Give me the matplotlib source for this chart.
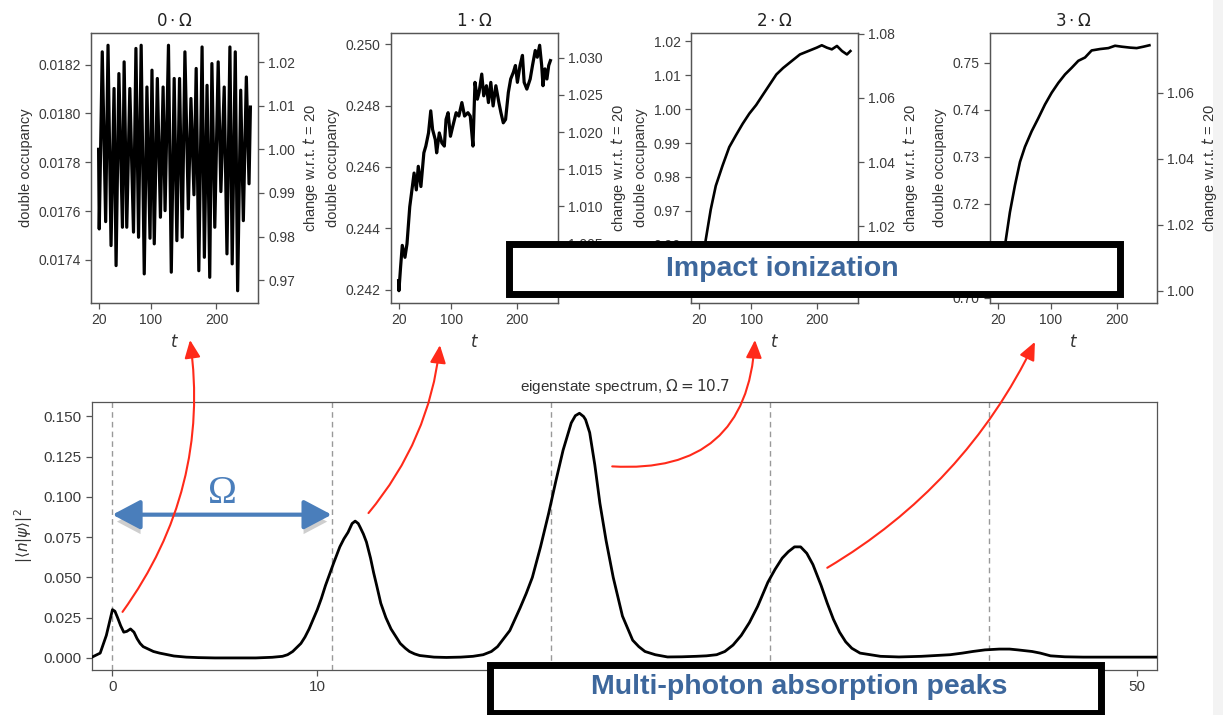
import numpy as np
import matplotlib
matplotlib.use("Agg")
import matplotlib.pyplot as plt
import matplotlib.patheffects as pe
from matplotlib.patches import Rectangle, ConnectionPatch
from matplotlib.ticker import FormatStrFormatter

plt.rcParams["font.family"] = ["Liberation Sans", "DejaVu Sans"]
plt.rcParams["mathtext.fontset"] = "dejavusans"
plt.rcParams["axes.edgecolor"] = "#555555"
plt.rcParams["axes.linewidth"] = 0.9

# ---- top panels: double occupancy vs t ----
T_0 = [20, 21, 25.6, 30.8, 34.4, 39, 43.6, 46.7, 51, 56.4, 59, 63, 67.7, 73.3, 77, 81, 85,
       89.7, 93.8, 98.5, 101.5, 105, 109.7, 114.4, 118.5, 121.5, 126.7, 131, 135.4, 139.5,
       143.6, 147.7, 151.8, 157, 161, 165.6, 169, 173, 178, 181.5, 185.6, 189.7, 193,
       197.4, 202.6, 206.7, 211.8, 216, 220.5, 224, 228.7, 232.3, 237, 241, 245.6, 249.7, 251.8]
D_0 = [0.017853, 0.017527, 0.018252, 0.017557, 0.018279, 0.017459, 0.018102, 0.017377,
       0.018163, 0.017534, 0.018211, 0.017534, 0.018102, 0.017514, 0.018266, 0.017493,
       0.018279, 0.017343, 0.018108, 0.017489, 0.018177, 0.017466, 0.018143, 0.017575,
       0.018108, 0.017602, 0.018279, 0.017350, 0.018143, 0.017479, 0.018143, 0.017493,
       0.018252, 0.017609, 0.018061, 0.017667, 0.018184, 0.017356, 0.018272, 0.017411,
       0.018115, 0.017329, 0.018204, 0.017534, 0.018211, 0.017680, 0.018108, 0.017425,
       0.018272, 0.017384, 0.018252, 0.017274, 0.018095, 0.017561, 0.018149, 0.017712, 0.018026]

T_1 = [20, 20.5, 23, 25.6, 29.7, 32.8, 37, 41, 43.6, 47, 50, 54, 58.5, 61.5, 65.6, 69, 71.8,
       75.9, 78, 82, 86, 89.7, 92.3, 95.4, 99, 102.6, 107.7, 111.8, 116.4, 120.5, 125.6,
       129.2, 131.3, 133.3, 136.4, 140, 142.6, 146.7, 149.7, 153.8, 156.9, 160.5, 164, 168.2,
       172.8, 175.9, 179.5, 183, 187.2, 190.8, 194.9, 198, 201, 205, 208.7, 211.3, 215.4,
       220.5, 224, 228.2, 231.3, 234.9, 238, 240, 243, 246, 248.7, 251.3]
D_1 = [0.24229, 0.24196, 0.24272, 0.24344, 0.24305, 0.24349, 0.24470, 0.24536, 0.24580,
       0.24525, 0.24602, 0.24536, 0.24646, 0.24668, 0.24711, 0.24783, 0.24722, 0.24689,
       0.24646, 0.24711, 0.24678, 0.24668, 0.24755, 0.24777, 0.24700, 0.24733, 0.24777,
       0.24766, 0.24810, 0.24766, 0.24777, 0.24766, 0.24717, 0.24668, 0.24876, 0.24821,
       0.24843, 0.24903, 0.24832, 0.24865, 0.24810, 0.24876, 0.24799, 0.24865, 0.24810,
       0.24777, 0.24744, 0.24755, 0.24843, 0.24887, 0.24909, 0.24931, 0.24876, 0.24931,
       0.24964, 0.24876, 0.24854, 0.24887, 0.24931, 0.24980, 0.24958, 0.24997, 0.24931,
       0.24865, 0.24920, 0.24887, 0.24931, 0.24947]

T_2 = [20, 24, 27.5, 30.8, 38.5, 46.2, 56.4, 66.7, 76.9, 87.2, 97.4, 107.7, 117.9, 128.2,
       138.5, 148.7, 161.5, 174.4, 187.2, 200, 207.7, 215.4, 223, 230.8, 238.5, 246, 251.3]
D_2 = [0.9465, 0.9520, 0.9565, 0.9614, 0.9704, 0.9774, 0.9833, 0.9888, 0.9923, 0.9957,
       0.9987, 1.0012, 1.0042, 1.0072, 1.0102, 1.0121, 1.0141, 1.0161, 1.0171, 1.0181,
       1.0188, 1.0181, 1.0176, 1.0186, 1.0171, 1.0161, 1.0171]

T_3 = [20, 24, 28, 32.6, 38.6, 46.2, 53.8, 61.3, 71.4, 81.5, 91.5, 101.6, 111.7, 121.8,
       131.8, 141.9, 152, 162, 174.7, 187.3, 197.3, 207.4, 220, 230, 240.2, 249.2]
D_3 = [0.7015, 0.7045, 0.7080, 0.7125, 0.7182, 0.7239, 0.7289, 0.7321, 0.7354, 0.7382,
       0.7411, 0.7436, 0.7457, 0.7475, 0.7489, 0.7504, 0.7511, 0.7526, 0.7529, 0.7531,
       0.7536, 0.7534, 0.7532, 0.7531, 0.7534, 0.7537]

PANEL_T = [T_0, T_1, T_2, T_3]
PANEL_D = [D_0, D_1, D_2, D_3]
PANEL_TITLES = [r"$0\cdot\Omega$", r"$1\cdot\Omega$", r"$2\cdot\Omega$", r"$3\cdot\Omega$"]
LEFT_TICKS = [
    [0.0174, 0.0176, 0.0178, 0.0180, 0.0182],
    [0.242, 0.244, 0.246, 0.248, 0.250],
    [0.95, 0.96, 0.97, 0.98, 0.99, 1.00, 1.01, 1.02],
    [0.70, 0.71, 0.72, 0.73, 0.74, 0.75],
]
RIGHT_TICKS = [
    [0.97, 0.98, 0.99, 1.00, 1.01, 1.02],
    [1.005, 1.010, 1.015, 1.020, 1.025, 1.030],
    [1.00, 1.02, 1.04, 1.06, 1.08],
    [1.00, 1.02, 1.04, 1.06],
]
LEFT_FMT = ["%.4f", "%.3f", "%.2f", "%.2f"]
RIGHT_FMT = ["%.2f", "%.3f", "%.2f", "%.2f"]
T_TICKS = [20, 100, 200]

# ---- bottom panel: eigenstate spectrum ----
OMEGA = 10.7
HARMONICS = [0, 1, 2, 3, 4]
E_N = [-1.0, -0.6, -0.3, -0.15, 0.0, 0.12, 0.25, 0.4, 0.55, 0.7, 0.88, 1.05, 1.2, 1.35, 1.5,
       1.75, 2.0, 2.3, 2.7, 3.0, 3.6, 4.2, 5.0, 7.0, 7.8, 8.3, 8.55, 8.8, 9.2, 9.4, 9.6, 9.8,
       10.0, 10.2, 10.4, 10.6, 10.8, 11.1, 11.3, 11.5, 11.7, 11.85, 12.0, 12.1, 12.25, 12.4,
       12.6, 12.75, 12.9, 13.1, 13.35, 13.6, 14.05, 14.3, 14.5, 14.75, 15.0, 15.7, 16.3,
       17.0, 17.6, 18.1, 18.5, 18.8, 19.4, 19.9, 20.2, 20.5, 20.9, 21.3, 21.65, 22.0, 22.4,
       22.6, 22.8, 23.0, 23.1, 23.3, 23.55, 23.8, 24.1, 24.45, 24.9, 25.4, 25.7, 26.0, 26.5,
       27.1, 27.8, 28.5, 29.0, 29.5, 29.9, 30.3, 30.7, 31.1, 31.5, 32.0, 32.35, 32.7, 33.0,
       33.3, 33.6, 33.9, 34.2, 34.6, 34.9, 35.2, 35.5, 35.8, 36.1, 36.5, 37.0, 37.5, 38.4,
       39.5, 40.9, 41.5, 42.0, 42.6, 43.3, 43.8, 44.2, 44.9, 45.3, 45.8, 46.5, 47.4, 51.0]
WEIGHT = [0.0005, 0.003, 0.014, 0.022, 0.030, 0.029, 0.025, 0.020, 0.016, 0.0165, 0.018,
          0.016, 0.012, 0.009, 0.007, 0.0055, 0.004, 0.003, 0.002, 0.0012, 0.0005, 0.0002,
          0.0, 0.0, 0.0004, 0.001, 0.002, 0.004, 0.009, 0.013, 0.018, 0.024, 0.030, 0.037,
          0.045, 0.052, 0.059, 0.069, 0.074, 0.078, 0.0835, 0.085, 0.0835, 0.081, 0.077, 0.072,
          0.062, 0.053, 0.045, 0.034, 0.025, 0.018, 0.009, 0.006, 0.004, 0.0025, 0.0015,
          0.0005, 0.0003, 0.0005, 0.001, 0.002, 0.004, 0.007, 0.017, 0.031, 0.040, 0.050,
          0.069, 0.090, 0.110, 0.129, 0.146, 0.1505, 0.152, 0.150, 0.148, 0.140, 0.120, 0.096,
          0.073, 0.050, 0.026, 0.011, 0.007, 0.004, 0.002, 0.0006, 0.0007, 0.001, 0.0013,
          0.002, 0.004, 0.008, 0.014, 0.022, 0.032, 0.047, 0.055, 0.062, 0.066, 0.069, 0.069,
          0.065, 0.058, 0.045, 0.034, 0.024, 0.016, 0.010, 0.006, 0.003, 0.002, 0.001, 0.0006,
          0.001, 0.002, 0.003, 0.004, 0.005, 0.0055, 0.0055, 0.005, 0.004, 0.003, 0.0013,
          0.0007, 0.0005, 0.0005]
SPEC_YTICKS = [0.0, 0.025, 0.05, 0.075, 0.1, 0.125, 0.15]
SPEC_XTICKS = [0, 10, 20, 30, 40, 50]

W, H = 1223, 715
TICK_COL = "#3a3a3a"
BLUE_TXT = "#3d679c"
BLUE_ARR = "#4a7ebb"
RED = "#ff2a1a"


def px_box(x0, y0, x1, y1):
    """pixel box (top-left origin) -> figure fraction rect"""
    return [x0 / W, 1 - y1 / H, (x1 - x0) / W, (y1 - y0) / H]


fig = plt.figure(figsize=(W / 100, H / 100), dpi=100)

panel_left = [91, 391, 691, 990]
top_axes = []
for i in range(4):
    ax = fig.add_axes(px_box(panel_left[i], 33, panel_left[i] + 167, 303))
    ax.plot(PANEL_T[i], PANEL_D[i], color="black", lw=2.3 if i < 2 else 1.9)
    ax.set_xticks(T_TICKS)
    ax.set_yticks(LEFT_TICKS[i])
    ax.yaxis.set_major_formatter(FormatStrFormatter(LEFT_FMT[i]))
    ax.set_xlabel("$t$", fontsize=12, color="#333333", labelpad=4)
    ax.set_ylabel("double occupancy", fontsize=10.5, color="#333333", labelpad=4)
    ax.set_title(PANEL_TITLES[i], fontsize=12, color="#222222", pad=5)
    ax.tick_params(direction="out", length=4, width=0.9, color="#555555",
                   labelcolor=TICK_COL, labelsize=10)
    ax.margins(x=0.05, y=0.05)
    ax.autoscale_view()
    lo, hi = ax.get_ylim()
    d0 = PANEL_D[i][0]
    ax2 = ax.twinx()
    ax2.set_yticks(RIGHT_TICKS[i])
    ax2.yaxis.set_major_formatter(FormatStrFormatter(RIGHT_FMT[i]))
    ax2.set_ylim(lo / d0, hi / d0)
    ax2.set_ylabel("change w.r.t. $t$ = 20", fontsize=10.5, color="#333333", labelpad=4)
    ax2.tick_params(direction="out", length=4, width=0.9, color="#555555",
                    labelcolor=TICK_COL, labelsize=10)
    top_axes.append(ax)

# spectrum
axs = fig.add_axes(px_box(92, 402, 1157, 670))
for k in HARMONICS:
    axs.axvline(k * OMEGA, color="#999999", lw=1.0, ls=(0, (4, 3)), zorder=1)
axs.plot(E_N, WEIGHT, color="black", lw=2.0, zorder=3)
axs.set_xlim(-1, 51)
axs.set_ylim(-0.0075, 0.159)
axs.set_xticks(SPEC_XTICKS)
axs.set_yticks(SPEC_YTICKS)
axs.yaxis.set_major_formatter(FormatStrFormatter("%.3f"))
axs.tick_params(direction="out", length=4, width=0.9, color="#555555",
                labelcolor=TICK_COL, labelsize=11)
axs.set_title(r"eigenstate spectrum, $\Omega = 10.7$", fontsize=11, color="#333333", pad=8)
axs.set_ylabel(r"$|\langle n|\psi\rangle|^2$", fontsize=11, color="#333333", labelpad=6)

# blue Omega double arrow
ann = axs.annotate("", xy=(OMEGA, 0.089), xytext=(0, 0.089),
                   arrowprops=dict(arrowstyle="<|-|>,head_length=0.85,head_width=0.45",
                                   mutation_scale=20, lw=3, color=BLUE_ARR,
                                   shrinkA=0, shrinkB=0), zorder=4)
ann.arrow_patch.set_path_effects([pe.withSimplePatchShadow(offset=(0, -5), shadow_rgbFace="0.45",
                                                           alpha=0.35)])
axs.text(OMEGA / 2, 0.096, "Ω", fontsize=28, color=BLUE_ARR, family="Liberation Serif",
         ha="center", va="baseline", zorder=4)

# red curved arrows: spectrum peak -> time trace
arrow_from = [(0.49, 0.0286), (12.5, 0.090), (24.4, 0.119), (34.9, 0.056)]
arrow_to = [(0.593, -0.137), (0.293, -0.156), (0.383, -0.137), (0.269, -0.144)]
arrow_rad = [0.2, 0.15, 0.5, 0.15]
for i in range(4):
    con = ConnectionPatch(xyA=arrow_from[i], coordsA=axs.transData,
                          xyB=arrow_to[i], coordsB=top_axes[i].transAxes,
                          arrowstyle="-|>,head_length=0.9,head_width=0.4", mutation_scale=12,
                          connectionstyle=f"arc3,rad={arrow_rad[i]}",
                          color=RED, lw=1.5, shrinkA=0, shrinkB=0, zorder=6)
    fig.add_artist(con)

# annotation boxes
box_font = ["Liberation Sans", "DejaVu Sans"]
for (x0, y0, x1, y1) in [(508.5, 243.5, 1119.5, 293.5), (489.5, 664.5, 1100.5, 712.5)]:
    fig.add_artist(Rectangle((x0 / W, 1 - y1 / H), (x1 - x0) / W, (y1 - y0) / H,
                             transform=fig.transFigure, facecolor="white",
                             edgecolor="black", lw=5, zorder=10))
fig.text(782 / W, 1 - 276 / H, "Impact ionization", fontsize=20.5, fontweight="bold",
         family=box_font, color=BLUE_TXT, ha="center", va="baseline", zorder=11)
fig.text(799 / W, 1 - 694 / H, "Multi-photon absorption peaks", fontsize=20.5,
         fontweight="bold", family=box_font, color=BLUE_TXT, ha="center", va="baseline",
         zorder=11)

# faint slide edge on the right
fig.add_artist(Rectangle((1213 / W, 0), 10 / W, 1, transform=fig.transFigure,
                         facecolor="#f3f3f3", edgecolor="none", zorder=-1))

fig.savefig("out.png", dpi=100)
